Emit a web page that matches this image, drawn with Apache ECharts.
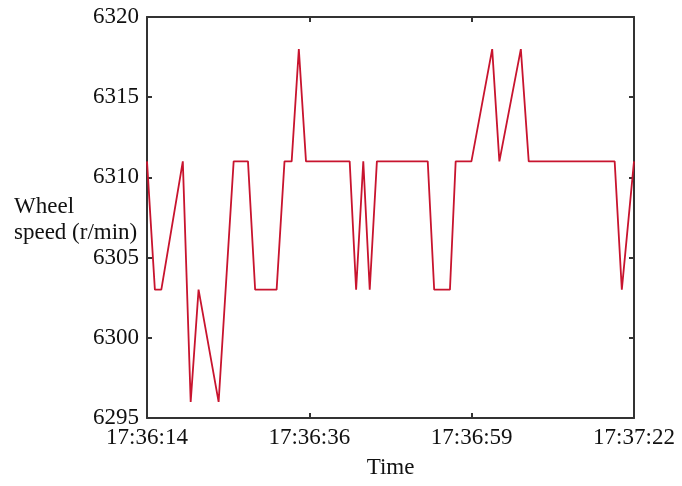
<!DOCTYPE html>
<html>
<head>
<meta charset="utf-8">
<script src="https://cdn.jsdelivr.net/npm/echarts@6/dist/echarts.min.js"></script>
<style>
html,body{margin:0;padding:0;background:#fff;}
#c{width:682px;height:486px;}
</style>
</head>
<body>
<div id="c"></div>
<script>
// elapsed seconds from 17:36:14 at each vertex of the trace
const timeSec = [0, 1.1, 2.0, 5.0, 6.1, 7.2, 10.0, 12.1, 14.1, 15.1, 18.1, 19.2, 20.2, 21.2, 22.2, 28.3, 29.2, 30.2, 31.1, 32.1, 39.2, 40.1, 42.3, 43.1, 45.3, 48.2, 49.2, 52.2, 53.3, 65.3, 66.3, 68];
// wheel speed (r/min)
const wheelSpeed = [6311, 6303, 6303, 6311, 6296, 6303, 6296, 6311, 6311, 6303, 6303, 6311, 6311, 6318, 6311, 6311, 6303, 6311, 6303, 6311, 6311, 6303, 6303, 6311, 6311, 6318, 6311, 6318, 6311, 6311, 6303, 6311];
const xTickLabels = ['17:36:14', '17:36:36', '17:36:59', '17:37:22'];
const xTickPos = [0, 68 / 3, 136 / 3, 68];
const yMin = 6295, yMax = 6320, yStep = 5;

const font = '"Liberation Serif","Times New Roman",serif';
const axisColor = '#333';

const chart = echarts.init(document.getElementById('c'));
const data = timeSec.map((t, i) => [t, wheelSpeed[i]]);

const xBase = {
  type: 'value', min: 0, max: 68,
  axisLine: { show: true, onZero: false, lineStyle: { color: axisColor, width: 2 } },
  axisTick: { show: true, inside: true, length: 5, customValues: xTickPos, lineStyle: { color: axisColor, width: 2 } },
  splitLine: { show: false }
};
const yBase = {
  type: 'value', min: yMin, max: yMax, interval: yStep,
  axisLine: { show: true, onZero: false, lineStyle: { color: axisColor, width: 2 } },
  axisTick: { show: true, inside: true, length: 5, lineStyle: { color: axisColor, width: 2 } },
  splitLine: { show: false }
};

chart.setOption({
  backgroundColor: '#fff',
  animation: false,
  grid: { left: 147, right: 48, top: 17, bottom: 68, containLabel: false, outerBoundsMode: 'none' },
  xAxis: [
    Object.assign({}, xBase, {
      position: 'bottom',
      name: 'Time', nameLocation: 'middle', nameGap: 38,
      nameTextStyle: { fontFamily: font, fontSize: 23, color: '#111' },
      axisLabel: {
        show: true, margin: 8, fontFamily: font, fontSize: 23, color: '#111',
        customValues: xTickPos,
        formatter: v => xTickLabels[Math.round(v / (68 / 3))]
      }
    }),
    Object.assign({}, xBase, { position: 'top', axisLabel: { show: false } })
  ],
  yAxis: [
    Object.assign({}, yBase, {
      position: 'left',
      axisLabel: { show: true, margin: 8, fontFamily: font, fontSize: 23, color: '#111', formatter: v => String(v) }
    }),
    Object.assign({}, yBase, { position: 'right', axisLabel: { show: false } })
  ],
  graphic: [{
    type: 'text', left: 14, top: 194,
    style: { text: 'Wheel\nspeed (r/min)', font: '23px ' + font, fill: '#111', lineHeight: 26 }
  }],
  series: [{
    type: 'line', data: data, xAxisIndex: 0, yAxisIndex: 0,
    showSymbol: false, symbol: 'none',
    lineStyle: { color: '#c8142e', width: 1.8 }
  }]
});
</script>
</body>
</html>
